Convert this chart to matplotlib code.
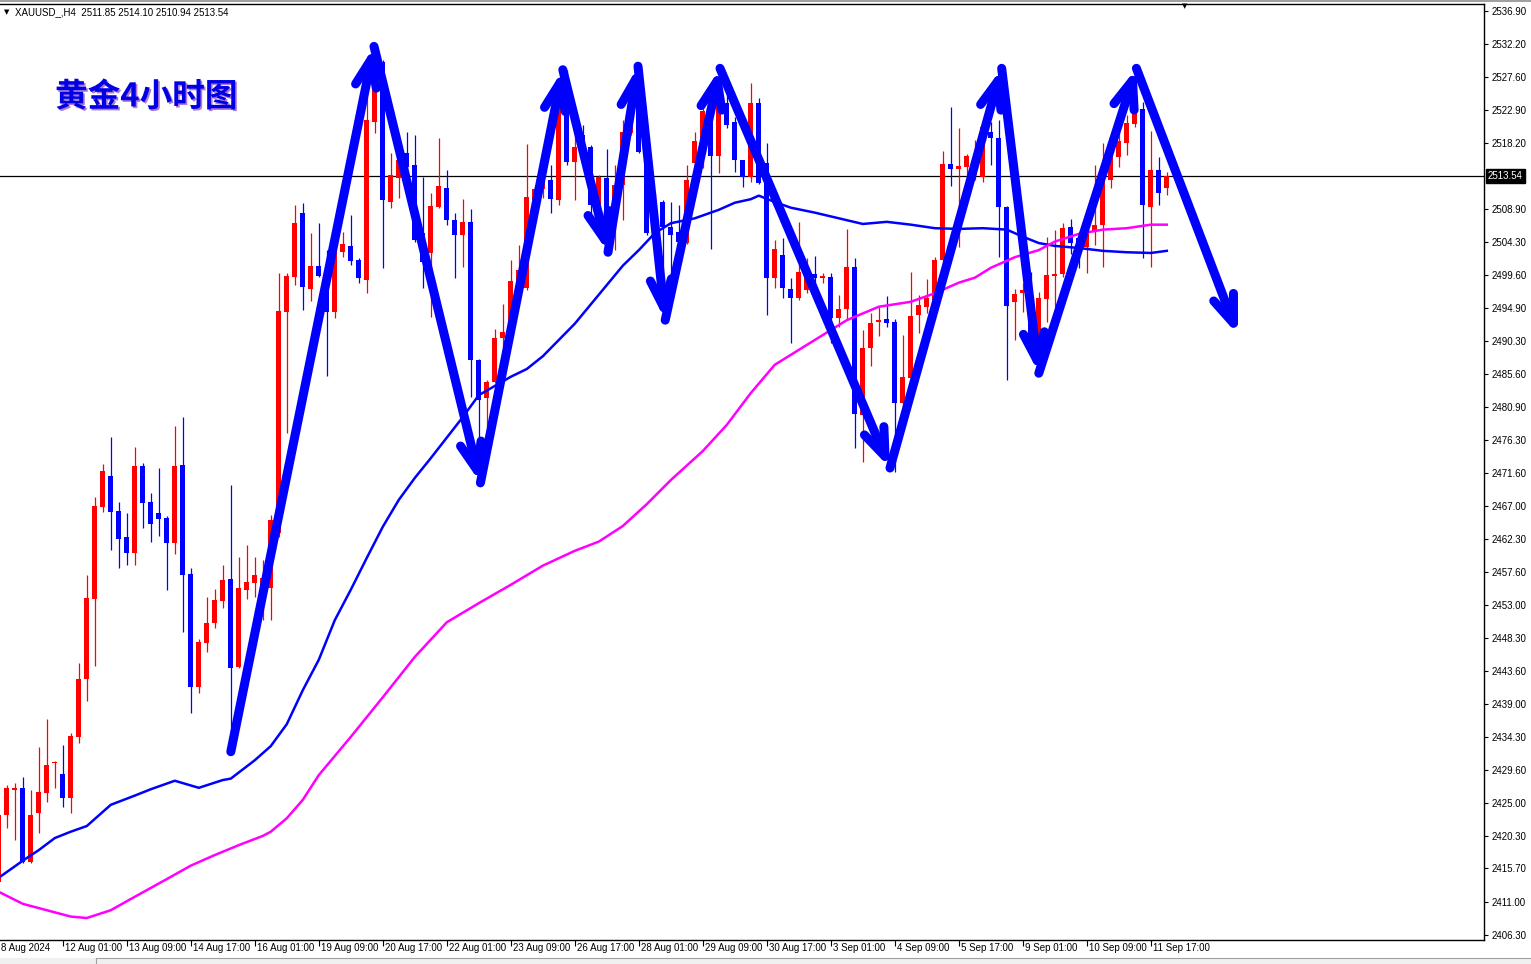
import numpy as np
import matplotlib.pyplot as plt
import matplotlib.transforms as mtransforms
import matplotlib.patheffects as pe
from matplotlib.patches import FancyArrowPatch, ArrowStyle, Rectangle

# XAUUSD H4 candles (open, high, low, close)
opens = [2413.8, 2423.3, 2426.8, 2427.1, 2416.6, 2423.6, 2426.4, 2430.6, 2429.1, 2425.7,
         2434.3, 2442.5, 2453.8, 2466.8, 2471.2, 2466.2, 2462.6, 2460.3, 2472.6, 2467.5,
         2466.0, 2465.2, 2461.7, 2472.7, 2457.3, 2441.4, 2447.6, 2450.4, 2453.5, 2456.6,
         2444.2, 2455.1, 2456.1, 2455.1, 2455.4, 2463.1, 2494.4, 2499.3, 2508.4, 2497.6,
         2500.9, 2499.5, 2494.4, 2502.8, 2503.7, 2501.7, 2498.9, 2521.2, 2529.7, 2509.9,
         2513.3, 2516.8, 2515.1, 2505.5, 2502.7, 2509.2, 2511.9, 2507.4, 2505.2, 2507.1,
         2487.6, 2482.2, 2484.5, 2490.7, 2491.5, 2498.6, 2497.8, 2510.2, 2511.7, 2513.0,
         2510.2, 2527.6, 2515.6, 2519.4, 2517.7, 2509.5, 2513.3, 2506.7, 2512.3, 2519.7,
         2526.0, 2515.4, 2506.4, 2509.9, 2506.4, 2505.7, 2504.1, 2515.4, 2519.0, 2521.8,
         2516.4, 2523.9, 2521.2, 2515.8, 2513.4, 2523.9, 2515.4, 2499.2, 2502.4, 2497.6,
         2496.3, 2497.5, 2499.7, 2499.2, 2499.3, 2493.5, 2494.8, 2500.7, 2479.8, 2489.3,
         2492.9, 2493.4, 2492.9, 2481.5, 2485.0, 2493.9, 2495.1, 2496.1, 2501.7, 2515.3,
         2514.6, 2514.9, 2513.7, 2513.4, 2519.8, 2519.0, 2509.2, 2495.8, 2497.0, 2497.5,
         2490.0, 2496.2, 2499.5, 2499.7, 2506.4, 2504.8, 2503.5, 2505.7, 2506.7, 2513.0,
         2516.3, 2518.2, 2520.9, 2523.1, 2509.2, 2514.4, 2511.85]
highs = [2424.7, 2427.5, 2427.8, 2428.6, 2426.8, 2432.9, 2436.8, 2430.9, 2433.2, 2434.9,
         2444.8, 2457.2, 2468.2, 2472.9, 2476.7, 2467.5, 2466.0, 2475.3, 2473.0, 2468.8,
         2472.3, 2465.5, 2478.3, 2479.5, 2458.2, 2448.1, 2454.1, 2455.2, 2458.6, 2469.9,
         2459.7, 2461.4, 2459.7, 2459.3, 2465.7, 2499.9, 2499.9, 2509.5, 2509.8, 2505.5,
         2506.9, 2503.1, 2503.1, 2505.7, 2508.1, 2502.0, 2524.9, 2529.0, 2530.0, 2516.8,
         2517.3, 2519.8, 2519.4, 2513.4, 2511.2, 2519.0, 2514.4, 2508.4, 2510.3, 2508.9,
         2487.7, 2484.8, 2492.0, 2495.5, 2501.7, 2503.8, 2518.1, 2512.3, 2514.4, 2515.1,
         2525.3, 2528.6, 2520.5, 2520.8, 2518.0, 2513.7, 2517.4, 2515.1, 2521.5, 2524.3,
         2526.5, 2515.6, 2511.2, 2510.2, 2509.9, 2509.5, 2515.1, 2519.8, 2524.2, 2523.6,
         2526.9, 2525.5, 2521.9, 2515.9, 2526.7, 2524.6, 2518.2, 2504.5, 2504.8, 2499.2,
         2507.1, 2502.0, 2502.3, 2499.9, 2499.9, 2496.8, 2506.1, 2502.0, 2491.8, 2494.2,
         2495.1, 2496.6, 2493.4, 2491.1, 2500.0, 2496.8, 2499.0, 2502.1, 2517.1, 2523.3,
         2520.4, 2516.7, 2518.7, 2521.1, 2521.2, 2521.5, 2509.3, 2497.6, 2498.5, 2500.0,
         2497.2, 2505.0, 2506.0, 2506.9, 2507.5, 2505.0, 2506.2, 2515.1, 2518.2, 2517.3,
         2520.5, 2522.2, 2524.7, 2524.0, 2519.9, 2516.3, 2514.10]
lows = [2409.4, 2421.4, 2419.7, 2416.5, 2416.5, 2420.7, 2425.1, 2427.1, 2424.4, 2423.6,
        2433.5, 2439.4, 2444.3, 2466.1, 2460.7, 2458.2, 2458.6, 2458.6, 2463.8, 2461.9,
        2462.7, 2455.1, 2460.2, 2449.1, 2437.7, 2440.5, 2446.3, 2449.7, 2452.5, 2432.0,
        2444.0, 2453.8, 2454.1, 2450.8, 2450.8, 2462.6, 2477.3, 2498.2, 2494.6, 2495.9,
        2499.3, 2485.3, 2493.5, 2502.1, 2501.0, 2498.5, 2497.0, 2519.7, 2500.6, 2509.1,
        2510.5, 2514.1, 2504.3, 2497.8, 2493.7, 2509.1, 2506.7, 2499.2, 2500.7, 2482.3,
        2470.3, 2478.1, 2484.3, 2489.4, 2491.4, 2498.2, 2497.5, 2509.5, 2510.5, 2508.4,
        2509.5, 2515.1, 2510.2, 2515.4, 2508.1, 2509.2, 2507.4, 2503.1, 2507.4, 2519.4,
        2516.8, 2505.2, 2504.3, 2496.1, 2499.3, 2503.5, 2504.0, 2514.7, 2514.7, 2503.3,
        2514.0, 2520.4, 2514.1, 2512.0, 2512.7, 2512.5, 2493.9, 2497.8, 2496.3, 2490.0,
        2496.1, 2497.0, 2497.5, 2498.5, 2490.0, 2492.2, 2493.2, 2475.1, 2473.2, 2486.7,
        2491.0, 2492.2, 2471.7, 2480.9, 2485.0, 2491.4, 2494.2, 2495.6, 2500.6, 2512.2,
        2503.5, 2513.4, 2513.0, 2512.7, 2515.1, 2502.1, 2484.8, 2490.4, 2494.4, 2488.3,
        2489.3, 2492.9, 2495.1, 2499.3, 2502.6, 2500.6, 2499.9, 2503.8, 2500.7, 2511.9,
        2514.9, 2516.6, 2520.5, 2502.0, 2500.7, 2509.5, 2510.94]
closes = [2423.3, 2427.1, 2427.1, 2416.6, 2423.3, 2426.5, 2430.3, 2430.8, 2425.7, 2434.4,
          2442.5, 2453.9, 2466.9, 2471.9, 2466.1, 2462.3, 2460.3, 2472.6, 2467.4, 2464.4,
          2465.1, 2461.7, 2472.6, 2457.2, 2441.4, 2447.7, 2450.4, 2453.7, 2456.5, 2444.0,
          2455.4, 2456.2, 2457.2, 2456.8, 2465.0, 2494.5, 2499.5, 2506.9, 2497.9, 2500.9,
          2499.5, 2494.4, 2503.0, 2504.0, 2501.6, 2499.2, 2521.5, 2528.6, 2510.2, 2513.7,
          2515.8, 2514.9, 2504.5, 2501.4, 2509.3, 2512.2, 2507.4, 2505.2, 2507.1, 2487.6,
          2481.9, 2484.5, 2490.7, 2491.5, 2498.7, 2500.3, 2510.6, 2511.7, 2513.2, 2510.3,
          2524.7, 2515.6, 2517.7, 2516.6, 2509.5, 2513.4, 2508.8, 2512.3, 2519.8, 2522.5,
          2517.0, 2505.5, 2509.9, 2506.4, 2505.2, 2504.3, 2513.0, 2518.5, 2522.8, 2516.4,
          2525.0, 2520.8, 2515.8, 2513.4, 2523.9, 2512.6, 2499.2, 2503.3, 2497.8, 2496.3,
          2500.0, 2499.3, 2499.2, 2499.5, 2493.5, 2494.8, 2500.7, 2479.9, 2489.3, 2492.8,
          2493.2, 2492.8, 2481.5, 2485.2, 2493.8, 2495.3, 2496.3, 2501.7, 2515.3, 2514.6,
          2515.0, 2516.4, 2515.8, 2520.5, 2519.0, 2509.2, 2495.2, 2496.9, 2497.5, 2489.7,
          2496.3, 2499.6, 2499.7, 2506.2, 2504.1, 2503.1, 2505.5, 2506.7, 2513.0, 2516.4,
          2518.5, 2521.1, 2523.1, 2509.5, 2514.4, 2511.2, 2513.54]

# moving averages, sampled from the chart (bar index, price)
ma_fast_bars = [0, 3, 5, 7, 9, 11, 14, 17, 19, 22, 25, 28, 29, 32, 34, 36, 38, 40, 42, 44,
                46, 48, 50, 52, 54, 56, 58, 60, 62, 64, 66, 68, 70, 72, 75, 78, 80, 82, 84,
                87, 90, 92, 94, 95, 97, 99, 102, 105, 108, 111, 114, 117, 120, 123, 126,
                128, 130, 132, 135, 138, 141, 144, 146]
ma_fast = [2414.4, 2416.8, 2418.3, 2420.0, 2420.9, 2421.7, 2424.7, 2426.0, 2426.9, 2428.1,
           2427.1, 2428.2, 2428.4, 2431.0, 2433.0, 2436.1, 2440.9, 2445.2, 2450.8, 2455.1,
           2459.6, 2464.0, 2467.8, 2470.9, 2473.7, 2476.6, 2479.5, 2482.6, 2483.9, 2485.2,
           2486.3, 2488.1, 2490.4, 2492.7, 2496.8, 2500.9, 2503.1, 2505.5, 2506.9, 2507.6,
           2508.8, 2509.8, 2510.3, 2510.8, 2509.9, 2509.1, 2508.4, 2507.6, 2506.8, 2507.1,
           2506.7, 2506.2, 2506.1, 2506.2, 2506.0, 2505.0, 2504.1, 2503.7, 2503.4, 2503.0,
           2502.8, 2502.7, 2503.0]
ma_slow_bars = [0, 3, 6, 9, 11, 14, 17, 21, 24, 27, 30, 33, 34, 36, 38, 40, 44, 48, 52, 56,
                60, 64, 68, 72, 75, 78, 81, 84, 88, 91, 94, 97, 100, 103, 106, 110, 114,
                117, 120, 122, 124, 127, 130, 132, 135, 138, 141, 144, 146]
ma_slow = [2412.4, 2410.7, 2409.8, 2408.9, 2408.7, 2409.8, 2411.7, 2414.2, 2416.1, 2417.6,
           2419.0, 2420.3, 2420.9, 2422.8, 2425.4, 2428.9, 2434.3, 2439.9, 2445.6, 2450.5,
           2453.2, 2455.8, 2458.5, 2460.6, 2461.9, 2464.1, 2467.2, 2470.6, 2474.7, 2478.4,
           2482.9, 2486.9, 2489.0, 2491.1, 2493.2, 2495.1, 2495.8, 2497.0, 2498.5, 2499.2,
           2500.6, 2502.1, 2503.1, 2504.3, 2505.4, 2506.0, 2506.2, 2506.7, 2506.7]

# hand-drawn zigzag arrows (bar index, price)
path_bars = [29.0, 46.9, 60.2, 70.5, 76.15, 79.9, 83.3, 90.15, 111.4, 125.36, 130.0, 142.2, 154.9]
path_prices = [2432.2, 2531.9, 2470.2, 2528.6, 2502.8, 2529.1, 2493.2, 2528.8, 2472.3,
               2528.8, 2485.7, 2528.8, 2491.1]

date_bars = list(range(0, 145, 8))
date_labels = ['8 Aug 2024', '12 Aug 01:00', '13 Aug 09:00', '14 Aug 17:00', '16 Aug 01:00',
               '19 Aug 09:00', '20 Aug 17:00', '22 Aug 01:00', '23 Aug 09:00', '26 Aug 17:00',
               '28 Aug 01:00', '29 Aug 09:00', '30 Aug 17:00', '3 Sep 01:00', '4 Sep 09:00',
               '5 Sep 17:00', '9 Sep 01:00', '10 Sep 09:00', '11 Sep 17:00']
price_ticks = [2536.90, 2532.20, 2527.60, 2522.90, 2518.20, 2508.90, 2504.30, 2499.60,
               2494.90, 2490.30, 2485.60, 2480.90, 2476.30, 2471.60, 2467.00, 2462.30,
               2457.60, 2453.00, 2448.30, 2443.60, 2439.00, 2434.30, 2429.60, 2425.00,
               2420.30, 2415.70, 2411.00, 2406.30]
last_price = 2513.54

BULL = '#ff0000'
BEAR = '#0000ff'
LBL = 'Liberation Sans'
FS = 7

fig = plt.figure(figsize=(15.31, 9.64), dpi=100)
ax = fig.add_axes([0, 24 / 964, 1484 / 1531, 936 / 964])

o = np.array(opens)
h = np.array(highs)
l = np.array(lows)
c = np.array(closes)
x = np.arange(len(o))
col = np.where(c >= o, BULL, BEAR)

ax.vlines(x, l, h, colors=col, lw=0.9, zorder=2)
body_lo = np.minimum(o, c)
body_h = np.maximum(np.abs(c - o), 0.15)
ax.bar(x, body_h, bottom=body_lo, width=0.62, color=col, lw=0, zorder=3)

ax.plot(ma_fast_bars, ma_fast, color='#0000ff', lw=1.8, zorder=4)
ax.plot(ma_slow_bars, ma_slow, color='#ff00ff', lw=1.8, zorder=4)

ax.axhline(last_price, color='black', lw=0.9, zorder=1)

style = ArrowStyle('->', head_length=0.5, head_width=0.19)
for i in range(len(path_bars) - 1):
    arr = FancyArrowPatch((path_bars[i], path_prices[i]), (path_bars[i + 1], path_prices[i + 1]),
                          arrowstyle=style, mutation_scale=40, lw=6.5, color='#0000ff',
                          shrinkA=0, shrinkB=0, capstyle='round', joinstyle='round', zorder=6)
    ax.add_patch(arr)

ax.set_xlim(0.15, 185.65)
ax.set_ylim(2405.59, 2537.89)

for s in ['top', 'bottom', 'right']:
    ax.spines[s].set_color('black')
    ax.spines[s].set_linewidth(1.0)
ax.spines['left'].set_visible(False)

ax.yaxis.tick_right()
ax.set_yticks(price_ticks)
ax.set_yticklabels([f'{v:.2f}' for v in price_ticks], fontfamily=LBL)
ax.tick_params(axis='y', length=3, width=0.8, pad=2.5, labelsize=FS, colors='black')

ax.set_xticks(date_bars[1:])
ax.set_xticklabels([])
ax.tick_params(axis='x', length=4, width=0.8, direction='out')

bt = mtransforms.blended_transform_factory(ax.transData, ax.transAxes)
for b, s in zip(date_bars, date_labels):
    ax.text(b + 0.25, -0.003, s, transform=bt, ha='left', va='top',
            fontsize=FS, fontfamily=LBL)

rt = mtransforms.blended_transform_factory(ax.transAxes, ax.transData)
ax.text(1.0025, last_price, f'{last_price:.2f}', transform=rt, ha='left', va='center',
        fontsize=FS, fontfamily=LBL, color='white',
        bbox=dict(boxstyle='square,pad=0.2', fc='black', ec='black'), clip_on=False)

# window chrome: thin gray band on top, tab strip at the bottom
fig.patches.append(Rectangle((0, 1 - 2 / 964), 1, 2 / 964, transform=fig.transFigure,
                             fc='#a0a0a0', ec='none'))
fig.patches.append(Rectangle((0, 0), 1, 6 / 964, transform=fig.transFigure,
                             fc='#f0f0f0', ec='none'))
fig.add_artist(plt.Line2D([96 / 1531, 1], [6 / 964, 6 / 964], transform=fig.transFigure,
                          color='#a0a0a0', lw=0.8))
fig.add_artist(plt.Line2D([96 / 1531, 96 / 1531], [0, 6 / 964], transform=fig.transFigure,
                          color='#a0a0a0', lw=0.8))

# header and title
fig.text(4 / 1531, 1 - 12 / 964, '\u25bc', fontsize=5, va='center', ha='left')
fig.text(15 / 1531, 1 - 12 / 964,
         f'XAUUSD_,H4  {opens[-1]:.2f} {highs[-1]:.2f} {lows[-1]:.2f} {closes[-1]:.2f}',
         fontsize=FS, fontfamily=LBL, va='center', ha='left')
fig.text(1185 / 1531, 1 - 6 / 964, '\u25bc', fontsize=5, va='center', ha='center')

fig.text(55 / 1531, 1 - 97 / 964, '黄金4小时图', fontsize=23.5, fontweight='bold',
         fontfamily=['Noto Sans CJK SC', 'DejaVu Sans'], color='#0000e6', va='center', ha='left',
         path_effects=[pe.withSimplePatchShadow(offset=(1.2, -1.2), shadow_rgbFace='#9040c0', alpha=0.7)])

fig.savefig('out.png', dpi=100)
